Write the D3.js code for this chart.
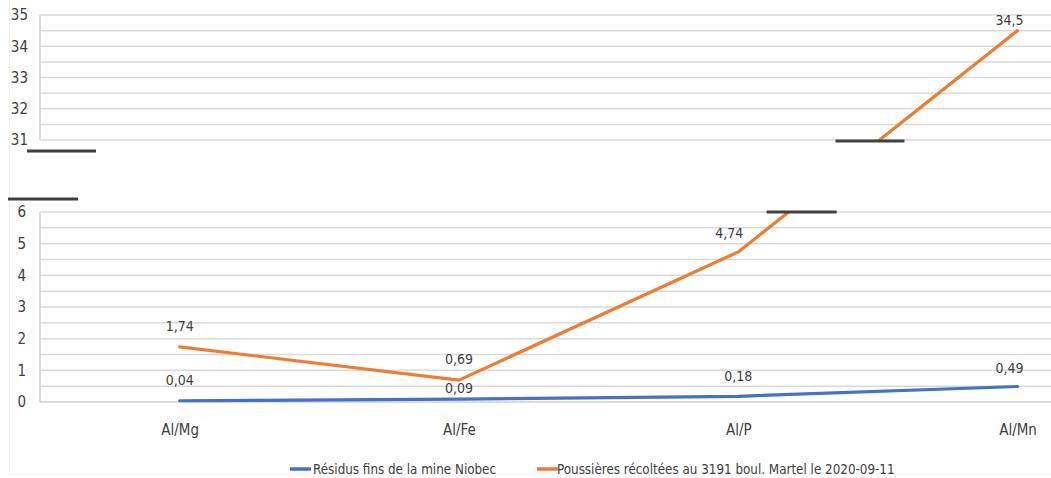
<!DOCTYPE html>
<html>
<head>
<meta charset="utf-8">
<script src="https://cdn.jsdelivr.net/npm/d3@7"></script>
<style>
  html, body { margin: 0; padding: 0; background: #fff; }
  svg text { font-family: "Liberation Sans Narrow", "DejaVu Sans Condensed", "Roboto Condensed", sans-serif; fill: #404040; }
</style>
</head>
<body>
<svg id="chart" width="1051" height="478"></svg>
<script>
// ---- data ----
const categories = ["Al/Mg", "Al/Fe", "Al/P", "Al/Mn"];
const niobec = [0.04, 0.09, 0.18, 0.49];
const poussieres = [1.74, 0.69, 4.74, 34.5];
const labelsNiobec = ["0,04", "0,09", "0,18", "0,49"];
const labelsPoussieres = ["1,74", "0,69", "4,74", "34,5"];
const seriesNames = ["Résidus fins de la mine Niobec", "Poussières récoltées au 3191 boul. Martel le 2020-09-11"];
const lowerTicks = [0, 1, 2, 3, 4, 5, 6];
const upperTicks = [31, 32, 33, 34, 35];
const colors = ["#4472C4", "#ED7D31"];

// ---- layout ----
const svg = d3.select("#chart");
const W = 1051, H = 478;
const left = 40;
const font = '"Liberation Sans Narrow", "DejaVu Sans Condensed", sans-serif';

const x = d3.scalePoint().domain(categories).range([left, left + 4 * 279.3]).padding(0.5);
// broken (piecewise) y scale: lower panel 0..6, upper panel 31..35
const y = d3.scaleLinear().domain([0, 6, 31, 35]).range([402, 212, 140, 15]);
const yLow = d3.scaleLinear().domain([0, 6]).range([402, 212]);
const yUp = d3.scaleLinear().domain([31, 35]).range([140, 15]);

// faint outer frame
svg.append("rect").attr("x", 9.5).attr("y", -1).attr("width", W).attr("height", H - 3)
  .attr("fill", "none").attr("stroke", "#f2f2f2");

// gridlines
const gridLow = d3.range(0.5, 6.01, 0.5);
const gridUp = d3.range(31, 35.01, 0.5);
svg.append("g").selectAll("line").data(gridLow).join("line")
  .attr("x1", left).attr("x2", W).attr("y1", d => yLow(d)).attr("y2", d => yLow(d))
  .attr("stroke", "#d9d9d9").attr("stroke-width", 1.5);
svg.append("g").selectAll("line").data(gridUp).join("line")
  .attr("x1", left).attr("x2", W).attr("y1", d => yUp(d)).attr("y2", d => yUp(d))
  .attr("stroke", "#d9d9d9").attr("stroke-width", 1.5);

// axes lines
svg.append("line").attr("x1", left).attr("x2", left).attr("y1", yLow(0)).attr("y2", yLow(6))
  .attr("stroke", "#d0d0d0").attr("stroke-width", 1.5);
svg.append("line").attr("x1", left).attr("x2", left).attr("y1", yUp(31)).attr("y2", yUp(35))
  .attr("stroke", "#d0d0d0").attr("stroke-width", 1.5);
svg.append("line").attr("x1", left).attr("x2", W).attr("y1", yLow(0)).attr("y2", yLow(0))
  .attr("stroke", "#d0d0d0").attr("stroke-width", 1.5);

// y tick labels
const yAxisLow = d3.axisLeft(yLow).tickValues(lowerTicks).tickFormat(d3.format("d")).tickSize(0).tickPadding(14);
const yAxisUp = d3.axisLeft(yUp).tickValues(upperTicks).tickFormat(d3.format("d")).tickSize(0).tickPadding(12);
const gL = svg.append("g").attr("transform", `translate(${left},0)`).call(yAxisLow);
const gU = svg.append("g").attr("transform", `translate(${left},0)`).call(yAxisUp);
[gL, gU].forEach(g => {
  g.select(".domain").remove();
  g.selectAll("text").attr("font-size", 15).attr("fill", "#404040").style("font-family", font);
});

// x category labels
const xAxis = d3.axisBottom(x).tickSize(0).tickPadding(22);
const gX = svg.append("g").attr("transform", `translate(0,${yLow(0)})`).call(xAxis);
gX.select(".domain").remove();
gX.selectAll("text").attr("font-size", 15).attr("fill", "#404040").style("font-family", font);

// clip paths for the two panels
const defs = svg.append("defs");
defs.append("clipPath").attr("id", "clipUp").append("rect")
  .attr("x", 0).attr("y", 0).attr("width", W).attr("height", yUp(31) + 1);
defs.append("clipPath").attr("id", "clipLow").append("rect")
  .attr("x", 0).attr("y", yLow(6) - 1).attr("width", W).attr("height", H);

const line = d3.line().x((d, i) => x(categories[i])).y(d => y(d));
[niobec, poussieres].forEach((s, k) => {
  ["clipUp", "clipLow"].forEach(c => {
    svg.append("path").datum(s).attr("d", line)
      .attr("clip-path", `url(#${c})`)
      .attr("fill", "none").attr("stroke", colors[k]).attr("stroke-width", 3.2)
      .attr("stroke-linejoin", "round").attr("stroke-linecap", "round");
  });
});

// break marks
function brk(x1, x2, yy) {
  svg.append("line").attr("x1", x1).attr("x2", x2).attr("y1", yy).attr("y2", yy)
    .attr("stroke", "#404040").attr("stroke-width", 3);
}
brk(27, 96, 151);
brk(8, 78, 199);
// where the orange segment between Al/P and Al/Mn crosses the panel edges
function crossX(yy) {
  const x0 = x(categories[2]), x1 = x(categories[3]);
  const y0 = y(poussieres[2]), y1 = y(poussieres[3]);
  return x0 + (yy - y0) / (y1 - y0) * (x1 - x0);
}
const cLow = crossX(yLow(6)), cUp = crossX(yUp(31));
brk(cLow - 22, cLow + 48, yLow(6));
brk(cUp - 44, cUp + 25, yUp(31) + 1);

// data labels
function addLabels(vals, labels, dxs, dys) {
  svg.append("g").selectAll("text").data(vals).join("text")
    .attr("x", (d, i) => x(categories[i]) + dxs[i])
    .attr("y", (d, i) => y(d) + dys[i])
    .attr("text-anchor", "middle")
    .attr("font-size", 14)
    .style("font-family", font)
    .attr("fill", "#404040")
    .text((d, i) => labels[i]);
}
addLabels(niobec, labelsNiobec, [0, 0, 0, -8], [-16, -6, -15, -13]);
addLabels(poussieres, labelsPoussieres, [0, 0, -9, -8], [-16, -16, -14, -6]);

// legend
const legend = svg.append("g");
const legItems = [{x: 290, tx: 313}, {x: 537, tx: 557}];
seriesNames.forEach((n, i) => {
  legend.append("line").attr("x1", legItems[i].x).attr("x2", legItems[i].x + 21)
    .attr("y1", 469).attr("y2", 469).attr("stroke", colors[i]).attr("stroke-width", 3.5);
  legend.append("text").attr("x", legItems[i].tx).attr("y", 474)
    .attr("font-size", 13.3).style("font-family", font).attr("fill", "#404040").text(n);
});
</script>
</body>
</html>
